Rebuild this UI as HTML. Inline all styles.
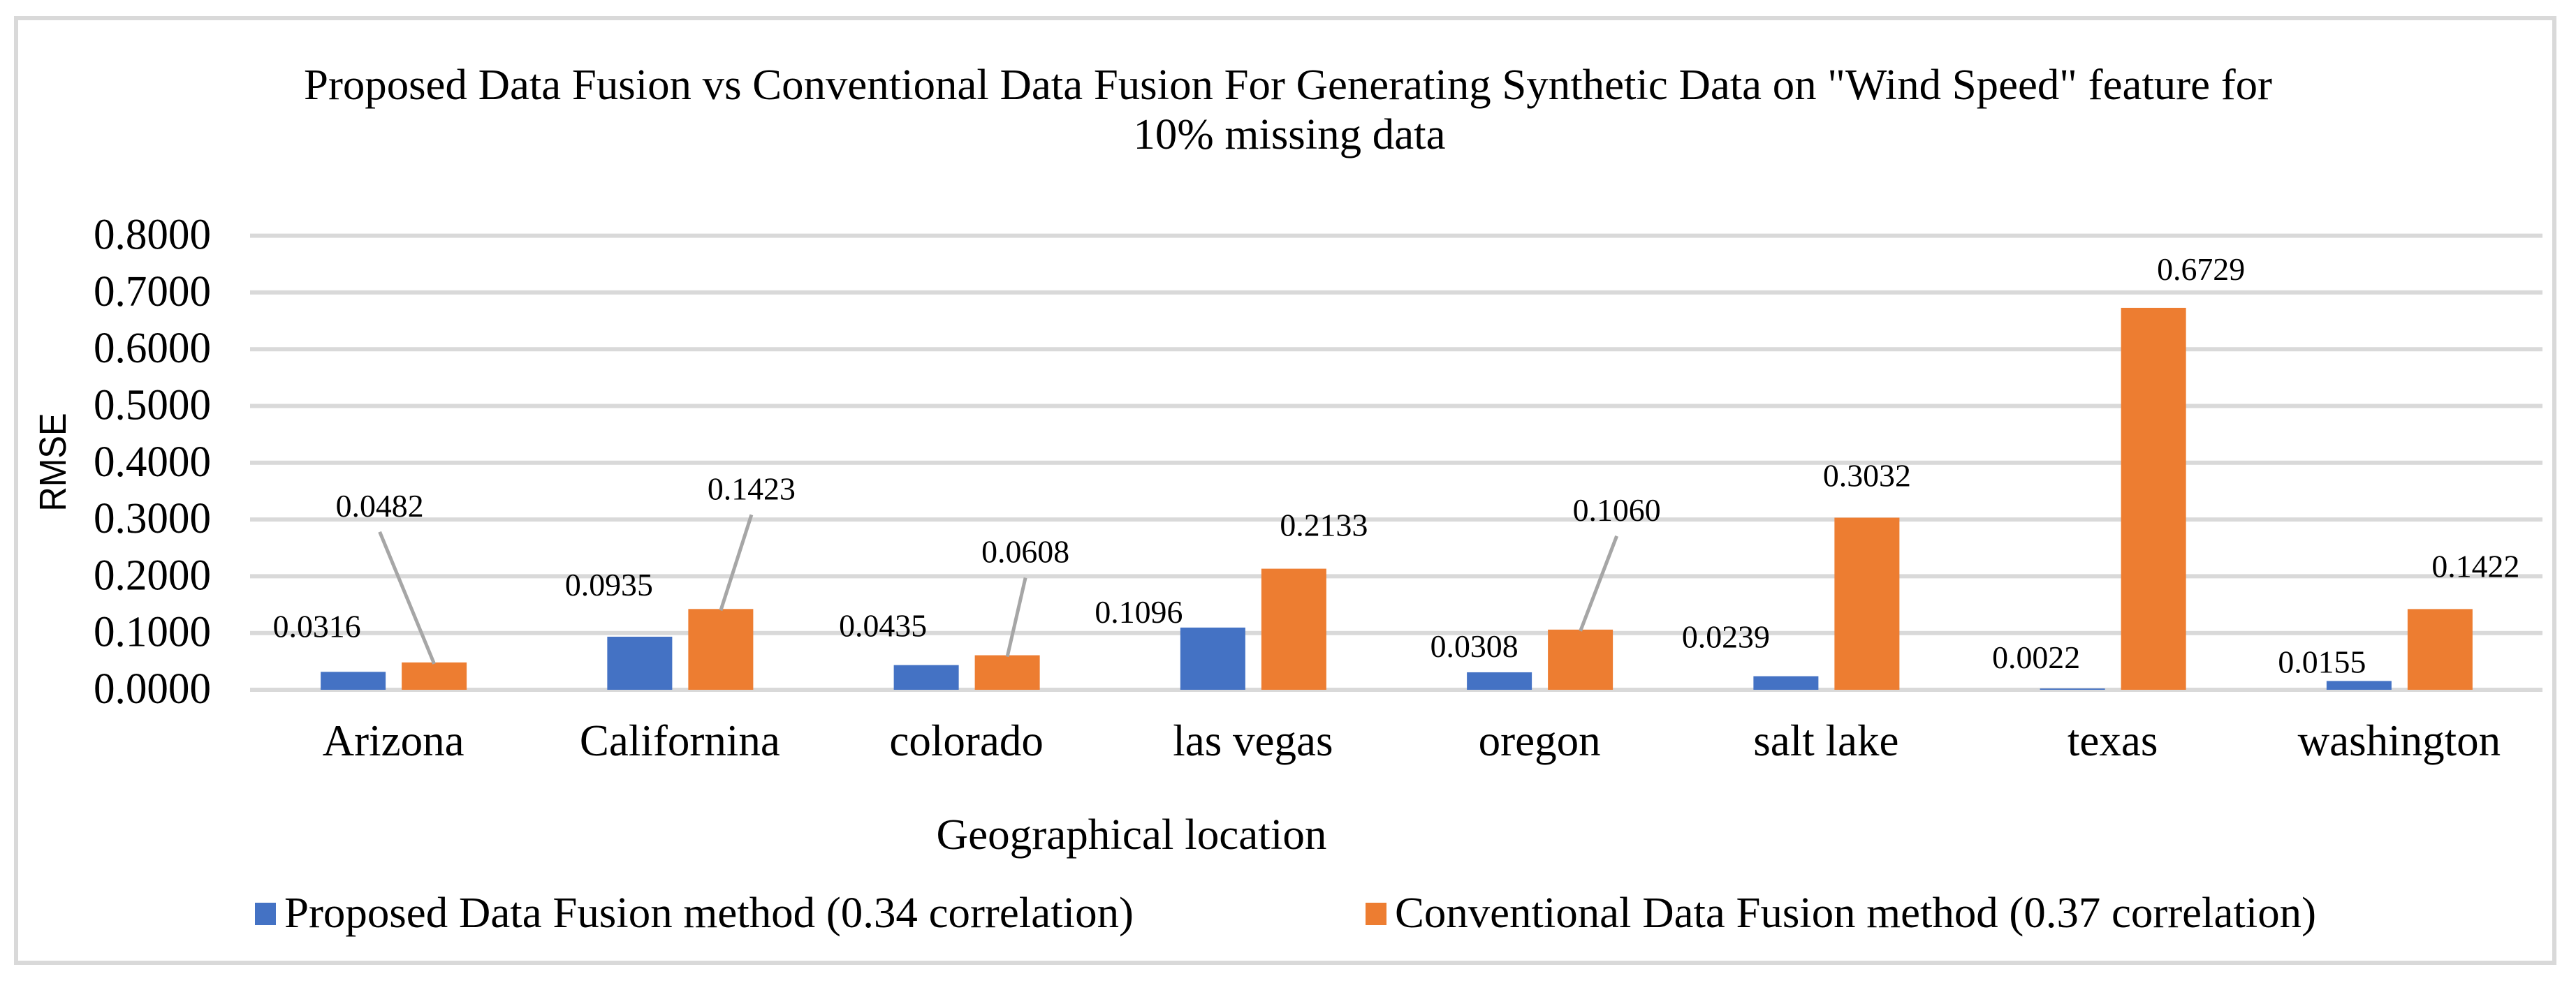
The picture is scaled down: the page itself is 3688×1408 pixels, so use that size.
<!DOCTYPE html>
<html><head><meta charset="utf-8"><style>html,body{margin:0;padding:0;background:#fff}svg{display:block}</style></head>
<body>
<svg id="chart" width="3688" height="1408" viewBox="0 0 3688 1408" xmlns="http://www.w3.org/2000/svg" font-family="'Liberation Serif', serif">
<rect x="23" y="26" width="3634" height="1353" fill="#fff" stroke="#d9d9d9" stroke-width="6"/>
<text x="1844" y="142" font-size="62" text-anchor="middle" textLength="2818" lengthAdjust="spacingAndGlyphs">Proposed Data Fusion vs Conventional Data Fusion For Generating Synthetic Data on "Wind Speed" feature for</text>
<text x="1846" y="213" font-size="62" text-anchor="middle" textLength="447" lengthAdjust="spacingAndGlyphs">10% missing data</text>
<text transform="translate(94,662) rotate(-90)" font-family="'Liberation Sans', sans-serif" font-size="54" text-anchor="middle" textLength="141" lengthAdjust="spacingAndGlyphs">RMSE</text>
<text x="1620" y="1216" font-size="62" text-anchor="middle" textLength="559" lengthAdjust="spacingAndGlyphs">Geographical location</text>
<g id="grid"></g><g id="bars"></g><g id="labels"></g>
<g>
<rect x="365" y="1293" width="30" height="32" fill="#4472c4"/>
<text x="407" y="1328" font-size="62" textLength="1216" lengthAdjust="spacingAndGlyphs">Proposed Data Fusion method (0.34 correlation)</text>
<rect x="1955" y="1293" width="30" height="32" fill="#ed7d31"/>
<text x="1997" y="1328" font-size="62" textLength="1319" lengthAdjust="spacingAndGlyphs">Conventional Data Fusion method (0.37 correlation)</text>
</g>
</svg>
<script>
const categories = ["Arizona","Californina","colorado","las vegas","oregon","salt lake","texas","washington"];
const proposed = [0.0316,0.0935,0.0435,0.1096,0.0308,0.0239,0.0022,0.0155];
const conventional = [0.0482,0.1423,0.0608,0.2133,0.1060,0.3032,0.6729,0.1422];
const yTicks = [0,0.1,0.2,0.3,0.4,0.5,0.6,0.7,0.8];
const yTickLabels = ["0.0000","0.1000","0.2000","0.3000","0.4000","0.5000","0.6000","0.7000","0.8000"];
const hasLeaderConv = [true,true,true,false,true,false,false,false];

const NS="http://www.w3.org/2000/svg";
const X0=358, X1=3640, Y0=988, PER=813;
const band=(X1-X0)/categories.length;
const y=v=>Y0-v*PER;
const cx=i=>X0+band*i+band/2;
// label placement tweaks (layout only)
const pDx=[-52,-44,-62,-106,-36,-86,-52,-53], pDy=[-50,-59,-41,-7,-22,-41,-29,-12];
const cDx=[-78,44,26,43,52,0,68,51], cDy=[-209,-157,-133,-47,-156,-45,-40,-46];
function mk(tag,attrs,parent){const e=document.createElementNS(NS,tag);for(const k in attrs)e.setAttribute(k,attrs[k]);parent.appendChild(e);return e;}
const grid=document.getElementById('grid'),bars=document.getElementById('bars'),labels=document.getElementById('labels');
yTicks.forEach((t,k)=>{
  const l=mk('line',{x1:X0,x2:X1,y1:y(t),y2:y(t),stroke:'#d9d9d9','stroke-width':6},grid);
  
  
  const tx=mk('text',{x:302,y:y(t)+19,'font-size':62,'text-anchor':'end',textLength:168,lengthAdjust:'spacingAndGlyphs'},grid);
  tx.textContent=yTickLabels[k];
  
  
});
const BW=93;
categories.forEach((c,i)=>{
  const bc=cx(i)-57.5, oc=cx(i)+58.5;
  const b=mk('rect',{x:bc-BW/2,y:y(proposed[i]),width:BW,height:Y0-y(proposed[i]),fill:'#4472c4'},bars);
  
  
  const o=mk('rect',{x:oc-BW/2,y:y(conventional[i]),width:BW,height:Y0-y(conventional[i]),fill:'#ed7d31'},bars);
  
  
  const pl=mk('text',{x:bc+pDx[i],y:y(proposed[i])+pDy[i],'font-size':46,'text-anchor':'middle',textLength:126,lengthAdjust:'spacingAndGlyphs'},labels);
  pl.textContent=proposed[i].toFixed(4);
  
  
  const lx=oc+cDx[i], ly=y(conventional[i])+cDy[i];
  const ol=mk('text',{x:lx,y:ly,'font-size':46,'text-anchor':'middle',textLength:126,lengthAdjust:'spacingAndGlyphs'},labels);
  ol.textContent=conventional[i].toFixed(4);
  
  
  if(hasLeaderConv[i]){
    const ln=mk('line',{x1:lx,y1:ly+22,x2:oc,y2:y(conventional[i])+2,stroke:'#a6a6a6','stroke-width':5},labels);
    
    
  }
  const cl=mk('text',{x:cx(i),y:1082,'font-size':63,'text-anchor':'middle'},labels);
  cl.textContent=c;
  
  
});
</script>
</body></html>
